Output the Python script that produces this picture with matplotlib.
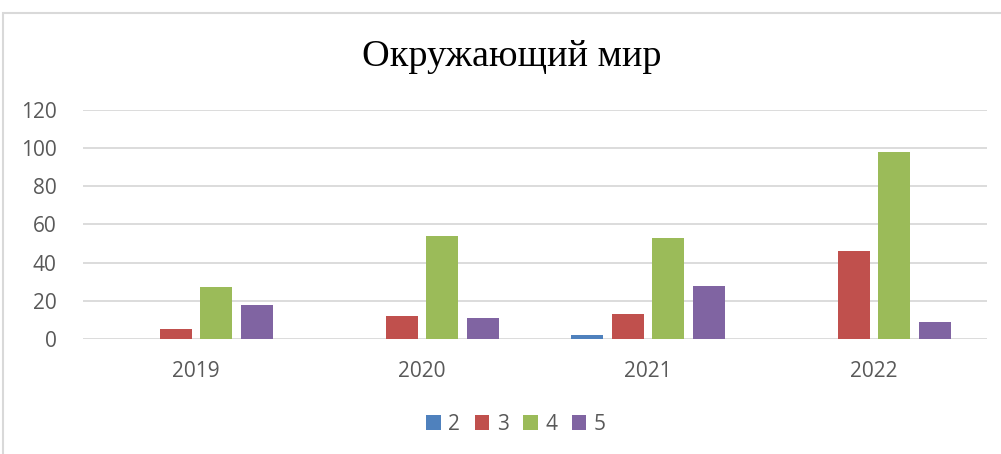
import matplotlib.pyplot as plt
import numpy as np
from matplotlib.patches import Rectangle

# данные
years = ['2019', '2020', '2021', '2022']
series = ['2', '3', '4', '5']
v2 = [0, 0, 2, 0]
v3 = [5, 12, 13, 46]
v4 = [27, 54, 53, 98]
v5 = [18, 11, 28, 9]
colors = ['#4F81BD', '#C0504D', '#9BBB59', '#8064A2']

fig = plt.figure(figsize=(10.01, 4.54), dpi=100)
fig.patches.append(Rectangle((3 / 1001, -0.1), 1.2, (454 - 13) / 454 + 0.1,
                             transform=fig.transFigure, fill=False,
                             edgecolor='#D9D9D9', linewidth=1.5))

ax = fig.add_axes([83 / 1001, (454 - 339) / 454, (987 - 83) / 1001, (339 - 110) / 454])

x = np.arange(len(years))
w = 0.142
step = 0.181
for i, (name, vals) in enumerate(zip(series, [v2, v3, v4, v5])):
    ax.bar(x + (i - 1.5) * step, vals, width=w, color=colors[i], label=name, zorder=3)

ax.set_xlim(-0.5, len(years) - 0.5)
ax.set_ylim(0, 120)
ax.set_yticks(range(0, 121, 20))
ax.set_xticks(x)
ax.set_xticklabels(years)
ax.grid(axis='y', color='#D9D9D9', linewidth=1.3, zorder=0)
for s in ax.spines.values():
    s.set_visible(False)
ax.tick_params(length=0, labelsize=15, labelcolor='#595959')
ax.tick_params(axis='x', pad=16)
ax.tick_params(axis='y', pad=19)
for lab in ax.get_xticklabels() + ax.get_yticklabels():
    lab.set_family('Open Sans')

fig.text(512 / 1001, (454 - 57) / 454, 'Окружающий мир', ha='center', va='center',
         fontsize=27.5, family='Liberation Serif')

leg = fig.legend(loc='center', bbox_to_anchor=(516 / 1001, (454 - 424) / 454), ncol=4,
                 frameon=False, handlelength=0.7, handleheight=0.7, handletextpad=0.35,
                 columnspacing=0.7, prop={'family': 'Open Sans', 'size': 15})
for t in leg.get_texts():
    t.set_color('#595959')

fig.savefig('out.png', dpi=100)
